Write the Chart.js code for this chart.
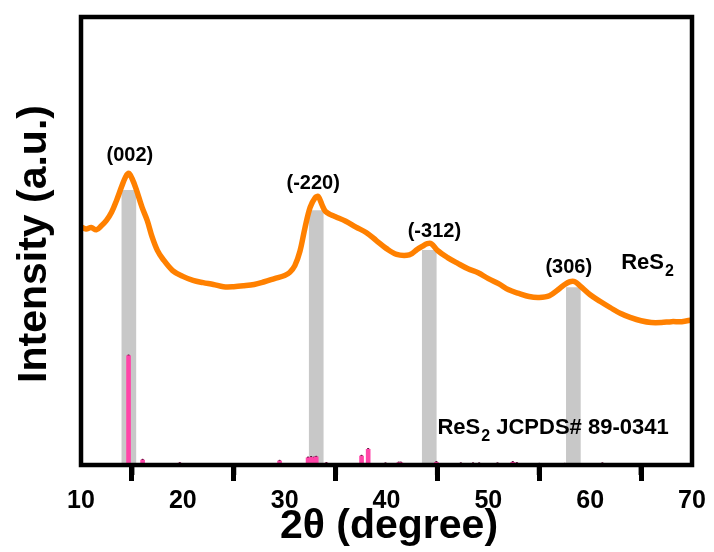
<!DOCTYPE html>
<html>
<head>
<meta charset="utf-8">
<script src="https://cdn.jsdelivr.net/npm/chart.js@4.4.1/dist/chart.umd.min.js"></script>
<style>
  html, body { margin: 0; padding: 0; background: #fff; }
  #wrap { width: 714px; height: 552px; }
</style>
</head>
<body>
<div id="wrap"><canvas id="xrd"></canvas></div>
<script>
// measured ReS2 pattern (2θ, intensity a.u.)
const twoTheta = [10, 10.5, 11, 11.5, 12, 12.5, 13, 13.5, 14, 14.4, 14.7, 15, 15.4, 16, 16.5, 17, 17.5, 18, 19, 20,
  21, 22, 23, 24, 25, 26, 27, 28, 29, 30, 30.5, 31, 31.5, 32, 32.5, 33, 33.3, 33.7, 34, 34.5,
  35, 36, 37, 38, 39, 40, 41, 42, 42.5, 43, 43.5, 44, 44.4, 45, 46, 47, 48, 49, 50, 51,
  52, 53, 54, 55, 56, 57, 57.5, 58, 58.5, 59, 60, 61, 62, 63, 64, 65, 66, 67, 68, 69, 70];
const intensity = [53.2, 52.7, 53.0, 52.5, 53.4, 54.6, 56.4, 59.1, 62.2, 64.4, 65.1, 64.0, 61.7, 57.5, 54.6, 50.8, 47.9, 46.1, 43.4, 42.1,
  41.2, 40.7, 40.3, 39.8, 39.8, 40.0, 40.3, 40.9, 41.6, 42.3, 43.0, 44.5, 47.7, 53.0, 57.5, 59.7, 59.9, 57.9, 56.6, 55.9,
  55.4, 54.4, 53.1, 51.9, 50.1, 48.3, 47.0, 46.8, 47.2, 48.1, 48.8, 49.4, 49.4, 47.9, 46.3, 45.0, 43.8, 42.9, 41.6, 40.5,
  39.1, 38.3, 37.6, 37.4, 37.8, 39.4, 40.3, 40.9, 40.9, 40.0, 38.0, 36.5, 35.1, 33.8, 32.9, 32.2, 31.8, 31.8, 32.0, 32.0, 32.4];

// JCPDS 89-0341 reference lines
const refPos = [14.67, 16.05, 19.7, 29.5, 32.3, 32.6, 32.9, 33.1, 34.1, 37.55, 38.2, 39.9, 41.2, 41.4,
  44.9, 47.3, 48.5, 49.1, 50.9, 52.4, 52.8, 55.0, 57.5, 61.2];
const refInt = [24.4, 1.1, 0.4, 0.9, 1.6, 1.7, 1.6, 1.8, 0.4, 2.0, 3.5, 0.3, 0.5, 0.5,
  0.6, 0.3, 0.3, 0.3, 0.3, 0.6, 0.4, 0.2, 0.2, 0.3];

// highlighted peaks
const peakPos = [14.7, 33.1, 44.2, 58.35];
const peakTop = [61.3, 56.8, 47.9, 39.6];
const peakHkl = ["(002)", "(-220)", "(-312)", "(306)"];
const hklAt = [[14.8, 69.1], [32.8, 62.9], [44.7, 52.1], [57.9, 44.1]];

const xTicks = [10, 20, 30, 40, 50, 60, 70];
const xMinor = [15, 25, 35, 45, 55, 65];

const FONT = "'Liberation Sans', Arial, sans-serif";

const pts = (xs, ys) => xs.map((x, i) => ({ x: x, y: ys[i] }));

const decor = {
  id: 'decor',
  afterDraw(chart) {
    const { ctx, chartArea: a, scales: { x, y } } = chart;
    ctx.save();
    ctx.strokeStyle = '#000';
    ctx.lineWidth = 4.5;
    // frame
    ctx.strokeRect(a.left, a.top, a.right - a.left, a.bottom - a.top);
    // minor ticks
    ctx.lineWidth = 5;
    ctx.beginPath();
    xMinor.forEach(v => {
      const px = x.getPixelForValue(v);
      ctx.moveTo(px, a.bottom);
      ctx.lineTo(px, a.bottom + 10);
    });
    ctx.stroke();

    ctx.fillStyle = '#000';
    ctx.textAlign = 'center';
    ctx.textBaseline = 'middle';
    ctx.font = 'bold 20px ' + FONT;
    peakHkl.forEach((t, i) => {
      ctx.fillText(t, x.getPixelForValue(hklAt[i][0]), y.getPixelForValue(hklAt[i][1]));
    });

    // sample labels with subscript
    const sub = (txt, rest, px, py) => {
      ctx.textAlign = 'left';
      ctx.font = 'bold 22px ' + FONT;
      ctx.fillText(txt, px, py);
      let w = ctx.measureText(txt).width;
      ctx.font = 'bold 16px ' + FONT;
      ctx.fillText('2', px + w + 1, py + 9);
      w += ctx.measureText('2').width + 1;
      if (rest) {
        ctx.font = 'bold 22px ' + FONT;
        ctx.fillText(rest, px + w, py);
      }
    };
    sub('ReS', '', x.getPixelForValue(63.05), y.getPixelForValue(45.2));
    sub('ReS', ' JCPDS# 89-0341', x.getPixelForValue(45.0), y.getPixelForValue(8.3));

    // axis titles
    ctx.textAlign = 'center';
    ctx.textBaseline = 'alphabetic';
    ctx.font = 'bold 41px ' + FONT;
    ctx.fillText('2θ (degree)', 389, 538);
    ctx.translate(46, 244);
    ctx.rotate(-Math.PI / 2);
    ctx.fillText('Intensity (a.u.)', 0, 0);
    ctx.restore();
  }
};

new Chart(document.getElementById('xrd'), {
  type: 'line',
  data: {
    datasets: [
      {
        label: 'ReS2',
        data: pts(twoTheta, intensity),
        borderColor: '#ff8000',
        borderWidth: 5.5,
        pointRadius: 0,
        tension: 0.35,
        order: 0,
      },
      {
        type: 'bar',
        label: 'JCPDS',
        data: pts(refPos, refInt),
        backgroundColor: '#ff45a8',
        barThickness: 4,
        grouped: false,
        order: 1,
      },
      {
        label: 'JCPDS tops',
        data: pts(refPos, refInt),
        showLine: false,
        pointRadius: 1.3,
        pointBackgroundColor: '#5a0030',
        pointBorderWidth: 0,
        order: 1,
      },
      {
        type: 'bar',
        label: 'peaks',
        data: pts(peakPos, peakTop),
        backgroundColor: '#c8c8c8',
        barThickness: 14,
        grouped: false,
        order: 2,
      },
    ],
  },
  options: {
    responsive: true,
    maintainAspectRatio: false,
    animation: false,
    layout: { padding: { top: 17, right: 22, left: 81, bottom: 0 } },
    plugins: {
      legend: { display: false },
      tooltip: { enabled: false },
    },
    scales: {
      x: {
        type: 'linear',
        min: 10,
        max: 70,
        offset: false,
        afterBuildTicks: s => { s.ticks = xTicks.map(v => ({ value: v })); },
        afterFit: s => { s.height = 87; },
        ticks: {
          color: '#000',
          font: { family: FONT, size: 25, weight: 'bold' },
          padding: 5,
          maxRotation: 0,
        },
        grid: {
          drawOnChartArea: false,
          drawTicks: true,
          tickLength: 16,
          tickWidth: 5,
          tickColor: '#000',
        },
        border: { display: false },
      },
      y: {
        display: false,
        min: 0,
        max: 100,
      },
    },
  },
  plugins: [decor],
});
</script>
</body>
</html>
